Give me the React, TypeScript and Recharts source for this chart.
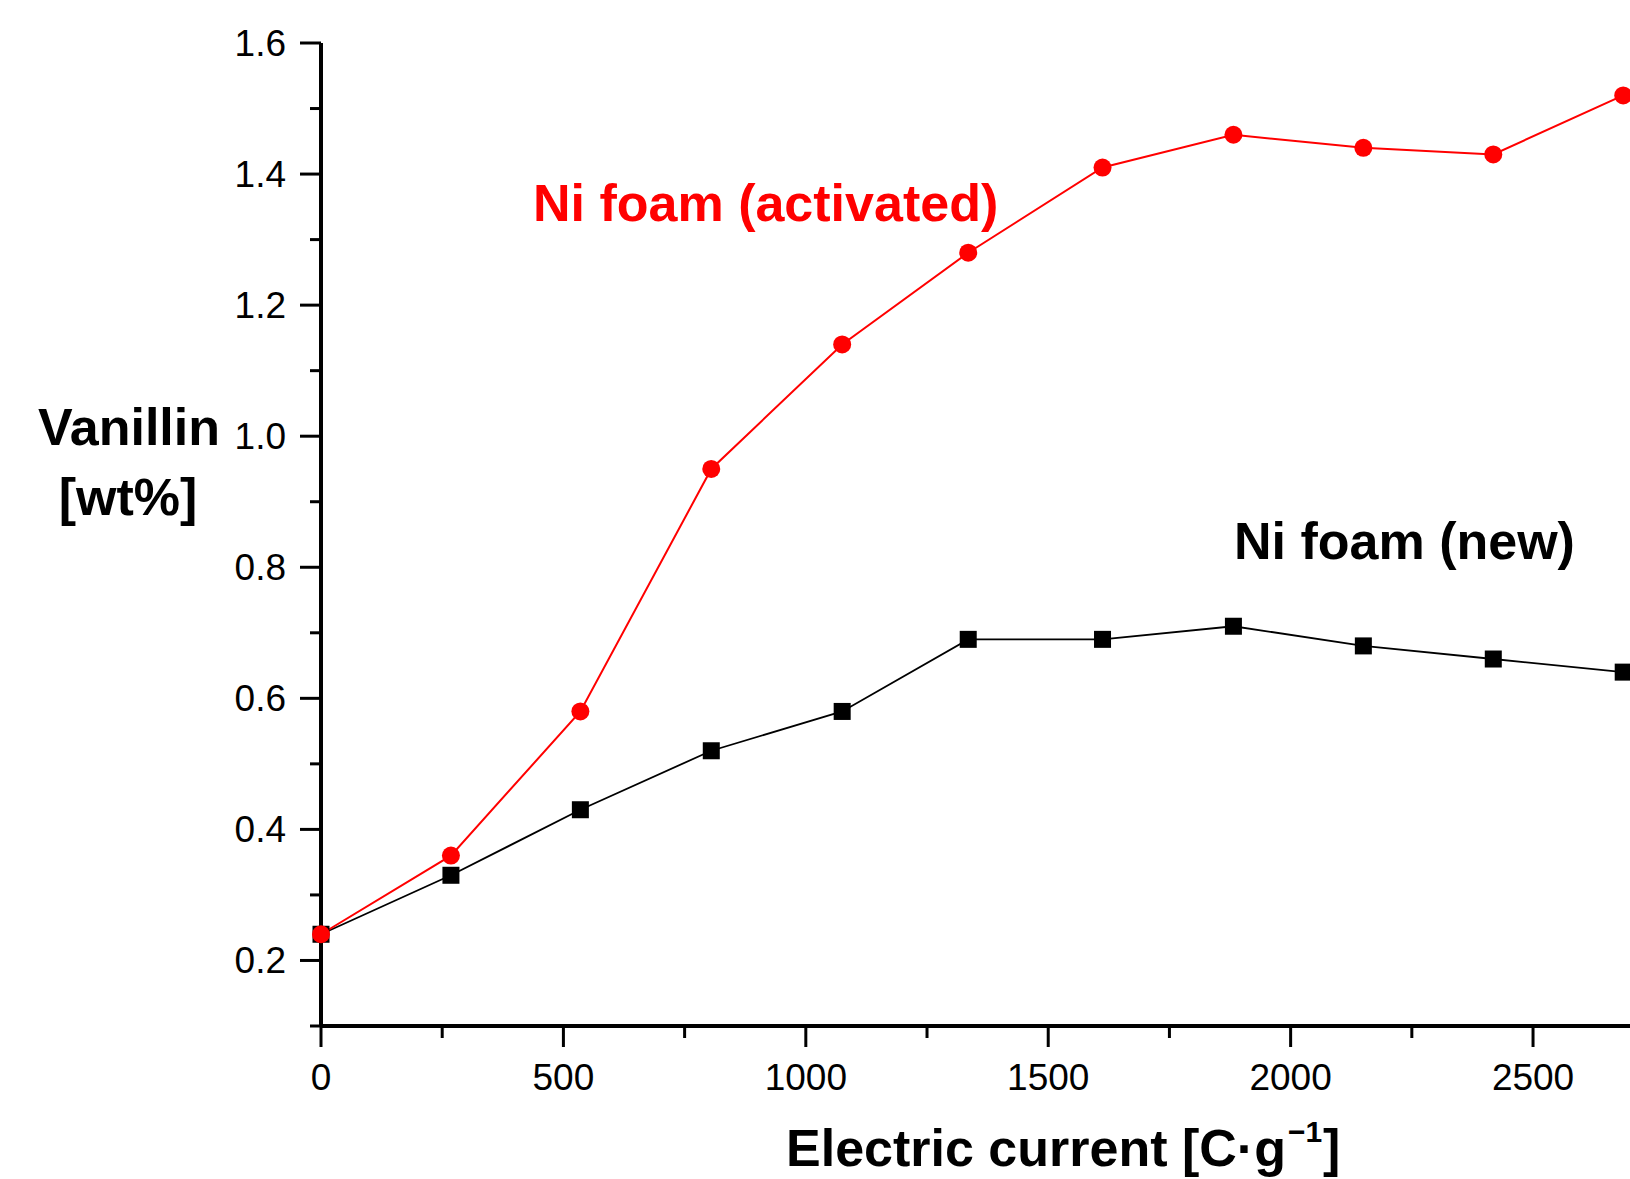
import React from 'react';
import { LineChart, Line, XAxis, YAxis, Customized } from 'recharts';

// Electric current [C/g] at each sample
const charge = [0, 268, 535, 805, 1075, 1335, 1612, 1882, 2150, 2418, 2686];
// Vanillin [wt%]
const activated = [0.24, 0.36, 0.58, 0.95, 1.14, 1.28, 1.41, 1.46, 1.44, 1.43, 1.52];
const fresh = [0.24, 0.33, 0.43, 0.52, 0.58, 0.69, 0.69, 0.71, 0.68, 0.66, 0.64];

const xTicks = [0, 250, 500, 750, 1000, 1250, 1500, 1750, 2000, 2250, 2500];
const yTicks = [0.1, 0.2, 0.3, 0.4, 0.5, 0.6, 0.7, 0.8, 0.9, 1.0, 1.1, 1.2, 1.3, 1.4, 1.5, 1.6];

const data = charge.map((c, i) => ({ c, activated: activated[i], fresh: fresh[i] }));

const FONT = '"Liberation Sans", Arial, sans-serif';

const XTick = (props: any) => {
  const { x, y, payload } = props;
  const major = payload.value % 500 === 0;
  return (
    <g>
      <line x1={x} x2={x} y1={y} y2={y + (major ? 21 : 12)} stroke="#000" strokeWidth={3} />
      {major && (
        <text x={x} y={y + 64} textAnchor="middle" fontSize={37} fontFamily={FONT} fill="#000">
          {payload.value}
        </text>
      )}
    </g>
  );
};

const YTick = (props: any) => {
  const { x, y, payload } = props;
  const major = Math.round(payload.value * 10) % 2 === 0;
  return (
    <g>
      <line x1={x - (major ? 21 : 11)} x2={x} y1={y} y2={y} stroke="#000" strokeWidth={3} />
      {major && (
        <text x={x - 35} y={y + 13} textAnchor="end" fontSize={37} fontFamily={FONT} fill="#000">
          {payload.value.toFixed(1)}
        </text>
      )}
    </g>
  );
};

const Square = (props: any) => {
  const { cx, cy, index } = props;
  return <rect key={`sq-${index}`} x={cx - 8.5} y={cy - 8.5} width={17} height={17} fill="#000" />;
};

const Labels = () => (
  <g fontFamily={FONT} fontWeight="bold">
    <text x={129} y={445} textAnchor="middle" fontSize={52} fill="#000">Vanillin</text>
    <text x={128} y={515} textAnchor="middle" fontSize={52} fill="#000">[wt%]</text>
    <text x={786} y={1166} fontSize={52} fill="#000">
      Electric current [C·g
      <tspan fontSize={30} dy={-24} dx={2}>−1</tspan>
      <tspan dy={24} dx={1}>]</tspan>
    </text>
    <text x={533} y={221} fontSize={52} fill="#ff0000">Ni foam (activated)</text>
    <text x={1234} y={559} fontSize={52} fill="#000">Ni foam (new)</text>
  </g>
);

export default function App() {
  return (
    <div style={{ position: 'absolute', left: 0, top: 0, background: '#fff' }}>
      <LineChart width={1630} height={1179} data={data} margin={{ top: 43, right: 0, left: 0, bottom: 0 }}>
        <XAxis
          type="number"
          dataKey="c"
          domain={[0, 2700]}
          ticks={xTicks}
          interval={0}
          height={153}
          tickSize={0}
          tickMargin={0}
          tickLine={false}
          tick={XTick}
          axisLine={{ stroke: '#000', strokeWidth: 4 }}
        />
        <YAxis
          type="number"
          domain={[0.1, 1.6]}
          ticks={yTicks}
          interval={0}
          width={321}
          tickSize={0}
          tickMargin={0}
          tickLine={false}
          tick={YTick}
          axisLine={{ stroke: '#000', strokeWidth: 4 }}
        />
        <Line
          type="linear"
          dataKey="fresh"
          stroke="#000"
          strokeWidth={1.8}
          dot={Square}
          isAnimationActive={false}
        />
        <Line
          type="linear"
          dataKey="activated"
          stroke="#ff0000"
          strokeWidth={2}
          dot={{ r: 9, fill: '#ff0000', stroke: 'none' }}
          isAnimationActive={false}
        />
        <Customized component={Labels} />
      </LineChart>
    </div>
  );
}
